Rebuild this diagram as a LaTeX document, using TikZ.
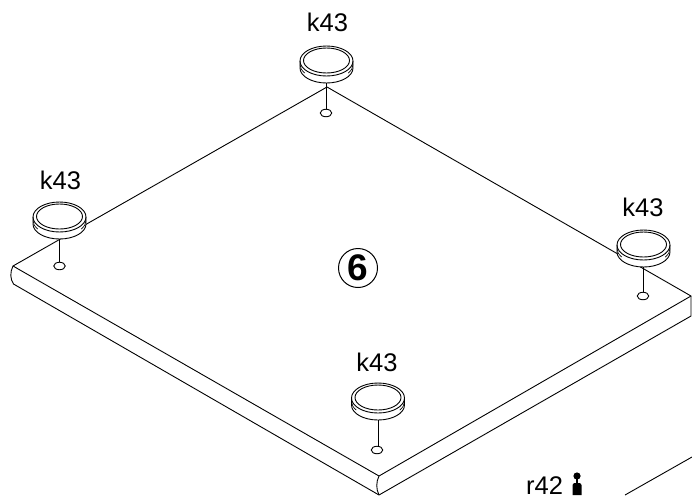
\documentclass[tikz,border=0pt]{standalone}
\usepackage{fontspec}
\setmainfont{Liberation Sans}
\usetikzlibrary{shapes.geometric}
\tikzset{
  edgeline/.style={draw=black,line width=0.9pt,line join=round},
  thin rim/.style={draw=black,line width=0.6pt},
  label text/.style={font=\fontsize{25.5}{26}\selectfont,anchor=base,inner sep=0pt,text=black},
  hole/.style={ellipse,draw=black,fill=white,line width=0.9pt,minimum width=11.5pt,minimum height=7.5pt,inner sep=0pt},
  pin/.style={draw=black,line width=0.9pt},
  foot/.pic={
    \fill[white] (-26.5,0) -- (-26.5,7) arc[start angle=180,end angle=360,x radius=26.5pt,y radius=15pt] -- (26.5,0) arc[start angle=0,end angle=180,x radius=26.5pt,y radius=15pt] -- cycle;
    \draw[edgeline] (-26.5,0) -- (-26.5,7) arc[start angle=180,end angle=360,x radius=26.5pt,y radius=15pt] -- (26.5,0);
    \draw[thin rim] (-26.5,3.5) arc[start angle=180,end angle=215,x radius=26.5pt,y radius=15pt];
    \draw[thin rim] (26.5,3.5) arc[start angle=360,end angle=325,x radius=26.5pt,y radius=15pt];
    \draw[edgeline] (0,0) ellipse[x radius=26.5pt,y radius=15pt];
    \draw[edgeline] (0,-0.5) ellipse[x radius=23pt,y radius=12.5pt];
    \coordinate (-base) at (0,22);
  }
}
\begin{document}
\begin{tikzpicture}[x=1pt,y=-1pt]
\useasboundingbox (0,0) rectangle (692,496);
% table top outline
\coordinate (top) at (327,87);
\coordinate (left) at (13,266);
\coordinate (leftlow) at (13.5,284);
\coordinate (front) at (379,476);
\coordinate (frontlow) at (379,495);
\coordinate (right) at (691,296);
\coordinate (rightlow) at (691,316);
\draw[edgeline] (top) -- (left) -- (front) -- (right) -- cycle;
\draw[edgeline] (left) .. controls (10,272) and (10,279) .. (leftlow) -- (frontlow) -- (rightlow) -- (right);
\draw[edgeline] (front) .. controls (376,482) and (376,489) .. (frontlow);
% feet
\pic (f1) at (326.5,61) {foot};
\pic (f2) at (59.5,217) {foot};
\pic (f3) at (643.5,245) {foot};
\pic (f4) at (378,398) {foot};
% holes and pins
\node[hole] (h1) at (326,113) {};
\node[hole] (h2) at (59.5,266) {};
\node[hole] (h3) at (643,296) {};
\node[hole] (h4) at (377,450) {};
\draw[pin] (f1-base) -- (f1-base |- h1.north);
\draw[pin] (f2-base) -- (f2-base |- h2.north);
\draw[pin] (f3-base) -- (f3-base |- h3.north);
\draw[pin] (f4-base) -- (f4-base |- h4.north);
% labels
\node[label text] (k1) at (327.5,31) {k43};
\node[label text] (k2) at (60.5,189) {k43};
\node[label text] (k3) at (643,216) {k43};
\node[label text] (k4) at (377,371) {k43};
\node[label text] (r) at (544.5,494.5) {r42};
% step number
\node[circle,draw=black,line width=1pt,minimum size=39pt,inner sep=0pt] (six) at (358,268) {};
\node[font=\fontsize{37}{37}\selectfont\bfseries,inner sep=0pt] (sixt) at (358,268) {6};
% small fitting icon
\fill[black] (577,476) circle[radius=3.6pt];
\draw[black,line width=2pt] (577,478) -- (577,485);
\fill[black] (572.5,485) -- (574,483) -- (580,483) -- (581.5,485) -- (581.5,495) -- (572.5,495) -- cycle;
% corner of next panel
\coordinate (p1) at (625,495);
\coordinate (p2) at (692,457);
\draw[edgeline] (p1) -- (p2);
\end{tikzpicture}
\end{document}
